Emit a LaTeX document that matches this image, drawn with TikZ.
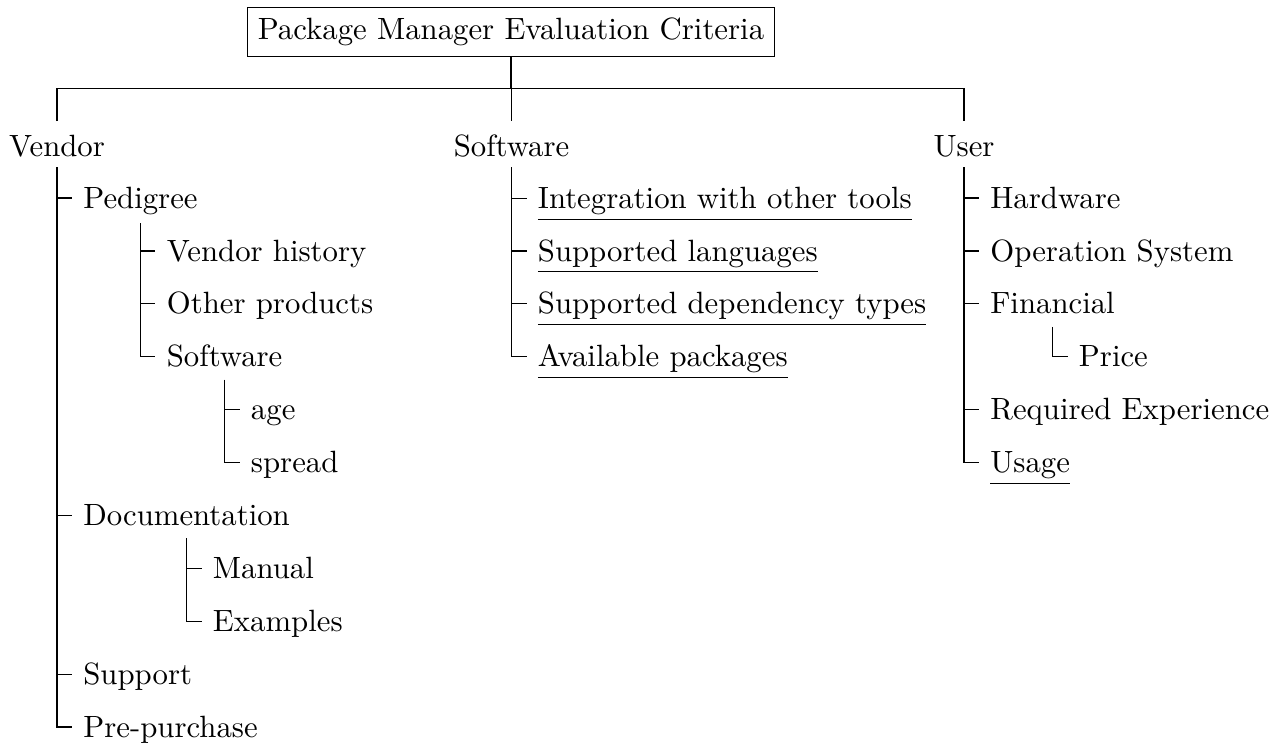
\documentclass[tikz,border=0pt]{standalone}
\usetikzlibrary{calc}
\tikzset{
  x=0.3250pt, y=-0.3250pt,
  lbl/.style={anchor=west, inner xsep=3.5pt, inner ysep=0pt, text height=6.6pt, text depth=0pt},
  lvl/.style={anchor=center, inner sep=0pt, text height=6.6pt, text depth=0pt},
  rootbox/.style={draw, line width=0.4pt},
  conn/.style={line width=0.4pt},
}
\begin{document}
\begin{tikzpicture}
\useasboundingbox (0,0) rectangle (1285,742);
% root
\node[rootbox] (root) at (511,32) {Package Manager Evaluation Criteria};
\coordinate (bar) at (0,88.5);
% level 1
\node[lvl] (vendor) at (57,146) {Vendor};
\node[lvl] (software) at (511.5,146) {Software};
\node[lvl] (user) at (964,146) {User};
\draw[conn] (root.south) -- (root.south |- bar);
\draw[conn] ($(vendor.north)+(0,-14)$) -- (vendor.north |- bar) -- (user.north |- bar) -- ($(user.north)+(0,-14)$);
\draw[conn] (software.north |- bar) -- ($(software.north)+(0,-14)$);
% Vendor subtree
\node[lbl] (ped) at (72,198) {Pedigree};
\node[lbl] (vhist) at ($(ped.center)+(15,52.9)$) {Vendor history};
\node[lbl] (oprod) at ($(ped.center)+(15,105.8)$) {Other products};
\node[lbl] (vsw) at ($(ped.center)+(15,158.7)$) {Software};
\node[lbl] (age) at ($(vsw.center)+(15,52.9)$) {age};
\node[lbl] (spread) at ($(vsw.center)+(15,105.8)$) {spread};
\node[lbl] (doc) at (72,515.4) {Documentation};
\node[lbl] (manual) at ($(doc.center)+(15,52.9)$) {Manual};
\node[lbl] (examples) at ($(doc.center)+(15,105.8)$) {Examples};
\node[lbl] (support) at (72,674.1) {Support};
\node[lbl] (prep) at (72,727) {Pre-purchase};
\coordinate (vtop) at ($(vendor.center)+(0,21)$);
\draw[conn] (vtop) |- (prep.west);
\foreach \c in {ped,doc,support} \draw[conn] (vtop |- \c.west) -- (\c.west);
\coordinate (ptop) at ($(ped.center)+(0,25)$);
\draw[conn] (ptop) |- (vsw.west);
\foreach \c in {vhist,oprod} \draw[conn] (ptop |- \c.west) -- (\c.west);
\coordinate (stop) at ($(vsw.center)+(0,23)$);
\draw[conn] (stop) |- (spread.west);
\draw[conn] (stop |- age.west) -- (age.west);
\coordinate (dtop) at ($(doc.center)+(0,23)$);
\draw[conn] (dtop) |- (examples.west);
\draw[conn] (dtop |- manual.west) -- (manual.west);
% Software subtree
\node[lbl] (integ) at (526.5,198.5) {\underline{Integration with other tools}};
\node[lbl] (slang) at (526.5,250.9) {\underline{Supported languages}};
\node[lbl] (sdep) at (526.5,303.8) {\underline{Supported dependency types}};
\node[lbl] (apack) at (526.5,356.7) {\underline{Available packages}};
\coordinate (swtop) at ($(software.center)+(0,21)$);
\draw[conn] (swtop) |- (apack.west);
\foreach \c in {integ,slang,sdep} \draw[conn] (swtop |- \c.west) -- (\c.west);
% User subtree
\node[lbl] (hw) at (979,198) {Hardware};
\node[lbl] (os) at (979,250.9) {Operation System};
\node[lbl] (fin) at (979,303.8) {Financial};
\node[lbl] (price) at ($(fin.center)+(15,52.9)$) {Price};
\node[lbl] (rexp) at (979,409.6) {Required Experience};
\node[lbl] (usage) at (979,462.5) {\underline{Usage}};
\coordinate (utop) at ($(user.center)+(0,21)$);
\draw[conn] (utop) |- (usage.west);
\foreach \c in {hw,os,fin,rexp} \draw[conn] (utop |- \c.west) -- (\c.west);
\draw[conn] ($(fin.center)+(0,23)$) |- (price.west);
\end{tikzpicture}
\end{document}
